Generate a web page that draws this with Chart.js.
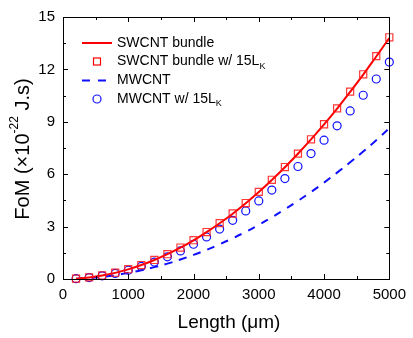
<!DOCTYPE html>
<html>
<head>
<meta charset="utf-8">
<script src="https://cdn.jsdelivr.net/npm/chart.js@4/dist/chart.umd.min.js"></script>
<style>
  html, body { margin: 0; padding: 0; background: #fff; }
  canvas { display: block; }
</style>
</head>
<body>
<canvas id="fomChart" width="413" height="338"></canvas>
<script>
// Length in um
const lengths = [200, 400, 600, 800, 1000, 1200, 1400, 1600, 1800, 2000, 2200, 2400, 2600,
                 2800, 3000, 3200, 3400, 3600, 3800, 4000, 4200, 4400, 4600, 4800, 5000];

// FoM (x10^-22 J.s)
const swcntBundle   = [0.02, 0.09, 0.20, 0.35, 0.55, 0.80, 1.09, 1.42, 1.79, 2.21, 2.68, 3.19, 3.74,
                       4.34, 4.98, 5.67, 6.40, 7.17, 7.99, 8.85, 9.76, 10.71, 11.70, 12.74, 13.80];
const swcntBundleLk = [0.02, 0.09, 0.20, 0.36, 0.56, 0.80, 1.09, 1.42, 1.80, 2.22, 2.69, 3.20, 3.75,
                       4.35, 4.99, 5.68, 6.41, 7.18, 8.00, 8.86, 9.77, 10.73, 11.72, 12.76, 13.84];
const mwcnt         = [0.01, 0.06, 0.12, 0.22, 0.35, 0.50, 0.68, 0.88, 1.12, 1.38, 1.67, 1.99, 2.33,
                       2.70, 3.10, 3.53, 3.99, 4.47, 4.98, 5.52, 6.09, 6.68, 7.30, 7.95, 8.63];
const mwcntLk       = [0.02, 0.08, 0.18, 0.32, 0.50, 0.72, 0.97, 1.27, 1.61, 1.99, 2.41, 2.86, 3.36,
                       3.90, 4.47, 5.09, 5.75, 6.44, 7.18, 7.95, 8.77, 9.62, 10.52, 11.45, 12.42];

const xTicks = [0, 1000, 2000, 3000, 4000, 5000];
const yTicks = [0, 3, 6, 9, 12, 15];

const legendNames = ['SWCNT bundle', 'SWCNT bundle w/ 15L', 'MWCNT', 'MWCNT w/ 15L'];
const legendSubs  = ['', 'K', '', 'K'];

const RED = '#ff0000';
const BLUE = '#1010ff';
const FONT = '"Liberation Sans", Arial, sans-serif';

function pts(ys) {
    return lengths.map((x, i) => ({ x: x, y: ys[i] }));
}

// frame with inward major/minor ticks on all four sides
const framePlugin = {
    id: 'frame',
    afterDatasetsDraw(chart) {
        const { ctx, chartArea: a, scales } = chart;
        const xs = scales.x, ys = scales.y;
        ctx.save();
        ctx.strokeStyle = '#000';
        ctx.lineWidth = 1;
        ctx.beginPath();
        for (let v = 0; v <= 5000; v += 500) {
            const px = Math.round(xs.getPixelForValue(v)) + 0.5;
            const len = v % 1000 === 0 ? 5 : 3;
            ctx.moveTo(px, a.bottom); ctx.lineTo(px, a.bottom - len);
            ctx.moveTo(px, a.top); ctx.lineTo(px, a.top + len);
        }
        for (let v = 0; v <= 15; v += 1.5) {
            const py = Math.round(ys.getPixelForValue(v)) + 0.5;
            const len = v % 3 === 0 ? 5 : 3;
            ctx.moveTo(a.left, py); ctx.lineTo(a.left + len, py);
            ctx.moveTo(a.right, py); ctx.lineTo(a.right - len, py);
        }
        ctx.stroke();
        ctx.strokeRect(Math.round(a.left) + 0.5, Math.round(a.top) + 0.5,
                       Math.round(a.right - a.left), Math.round(a.bottom - a.top));
        ctx.restore();
    }
};

// legend and axis titles (need sub/superscripts)
const textPlugin = {
    id: 'texts',
    afterDraw(chart) {
        const ctx = chart.ctx;
        ctx.save();
        ctx.fillStyle = '#000';
        ctx.textBaseline = 'middle';

        const rows = [43, 61.5, 80.5, 99];
        const sx0 = 82, sx1 = 112, tx = 117;
        rows.forEach((ry, i) => {
            ctx.save();
            if (i === 0) {
                ctx.strokeStyle = RED; ctx.lineWidth = 2;
                ctx.beginPath(); ctx.moveTo(sx0, ry); ctx.lineTo(sx1, ry); ctx.stroke();
            } else if (i === 1) {
                ctx.strokeStyle = RED; ctx.lineWidth = 1.2;
                ctx.strokeRect(93.5, ry - 3.5, 7, 7);
            } else if (i === 2) {
                ctx.strokeStyle = BLUE; ctx.lineWidth = 2;
                ctx.setLineDash([8, 8]);
                ctx.beginPath(); ctx.moveTo(sx0, ry); ctx.lineTo(sx1, ry); ctx.stroke();
            } else {
                ctx.strokeStyle = BLUE; ctx.lineWidth = 1.2;
                ctx.beginPath(); ctx.arc(97, ry, 4, 0, Math.PI * 2); ctx.stroke();
            }
            ctx.restore();
            ctx.font = '14px ' + FONT;
            ctx.textAlign = 'left';
            ctx.fillText(legendNames[i], tx, ry);
            if (legendSubs[i]) {
                const w = ctx.measureText(legendNames[i]).width;
                ctx.font = '9px ' + FONT;
                ctx.fillText(legendSubs[i], tx + w, ry + 5);
            }
        });

        // x title
        ctx.font = '19px ' + FONT;
        ctx.textAlign = 'center';
        ctx.fillText('Length (\u03bcm)', 229, 323);

        // y title, rotated
        ctx.translate(23, 149);
        ctx.rotate(-Math.PI / 2);
        const parts = [
            { t: 'FoM (\u00d710', f: 20, dy: 0 },
            { t: '-22', f: 12, dy: -8 },
            { t: ' J.s)', f: 20, dy: 0 }
        ];
        let total = 0;
        parts.forEach(p => { ctx.font = p.f + 'px ' + FONT; p.w = ctx.measureText(p.t).width; total += p.w; });
        let x = -total / 2;
        ctx.textAlign = 'left';
        parts.forEach(p => {
            ctx.font = p.f + 'px ' + FONT;
            ctx.fillText(p.t, x, p.dy);
            x += p.w;
        });
        ctx.restore();
    }
};

new Chart(document.getElementById('fomChart'), {
    type: 'scatter',
    data: {
        datasets: [
            {
                label: legendNames[2],
                data: pts(mwcnt),
                showLine: true,
                borderColor: BLUE,
                borderWidth: 2,
                borderDash: [8, 7],
                pointRadius: 0,
                tension: 0.4,
                order: 4
            },
            {
                label: legendNames[3],
                data: pts(mwcntLk),
                showLine: false,
                pointStyle: 'circle',
                pointRadius: 4,
                borderColor: BLUE,
                borderWidth: 1.2,
                backgroundColor: 'rgba(0,0,0,0)',
                clip: false,
                order: 3
            },
            {
                label: legendNames[0],
                data: pts(swcntBundle),
                showLine: true,
                borderColor: RED,
                borderWidth: 2,
                pointRadius: 0,
                tension: 0.4,
                order: 2
            },
            {
                label: legendNames[1],
                data: pts(swcntBundleLk),
                showLine: false,
                pointStyle: 'rect',
                pointRadius: 5,
                borderColor: 'rgba(255,20,20,0.85)',
                borderWidth: 1.2,
                backgroundColor: 'rgba(0,0,0,0)',
                clip: false,
                order: 1
            }
        ]
    },
    options: {
        responsive: false,
        animation: false,
        layout: { padding: { top: 14, right: 19, left: 0, bottom: 0 } },
        plugins: {
            legend: { display: false },
            tooltip: { enabled: false }
        },
        scales: {
            x: {
                type: 'linear',
                min: 0,
                max: 5000,
                afterFit(s) { s.height = 59; },
                afterBuildTicks(s) { s.ticks = xTicks.map(v => ({ value: v })); },
                grid: { display: false, drawTicks: false },
                border: { display: false },
                ticks: {
                    padding: 7,
                    color: '#000',
                    font: { family: FONT, size: 15 },
                    maxRotation: 0,
                    callback: v => String(v)
                }
            },
            y: {
                type: 'linear',
                min: 0,
                max: 15,
                afterFit(s) { s.width = 63; },
                afterBuildTicks(s) { s.ticks = yTicks.map(v => ({ value: v })); },
                grid: { display: false, drawTicks: false },
                border: { display: false },
                ticks: {
                    padding: 8,
                    color: '#000',
                    font: { family: FONT, size: 15 },
                    callback: v => String(v)
                }
            }
        }
    },
    plugins: [framePlugin, textPlugin]
});
</script>
</body>
</html>
